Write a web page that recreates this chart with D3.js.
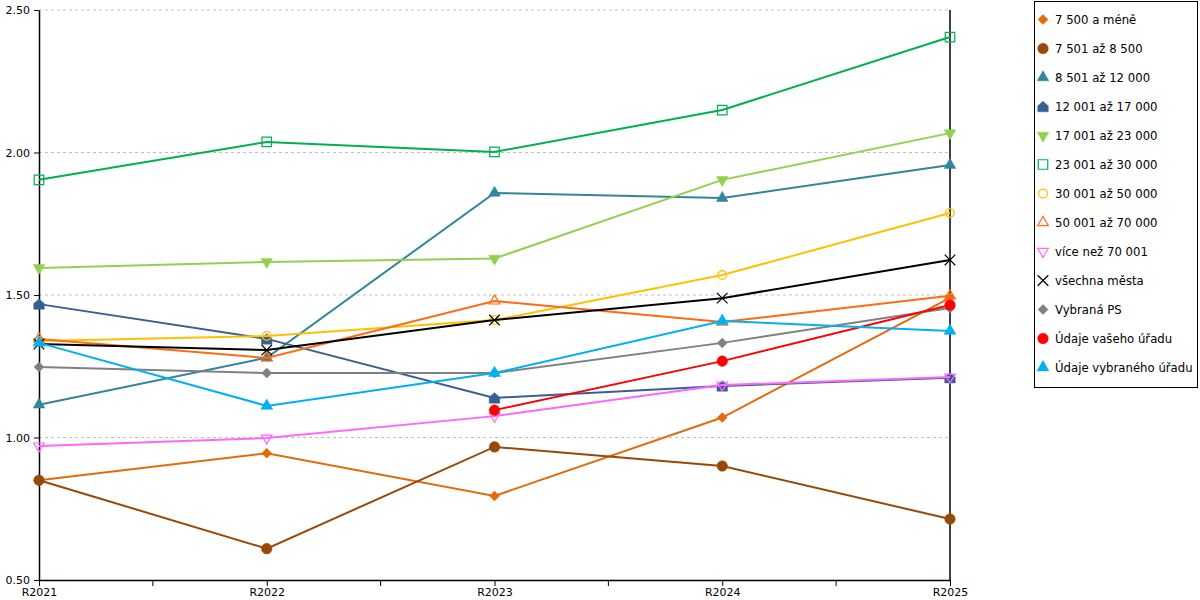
<!DOCTYPE html>
<html>
<head>
<meta charset="utf-8">
<script src="https://cdn.jsdelivr.net/npm/d3@7"></script>
<style>
  body { margin: 0; background: #fff; }
  svg { font-family: "DejaVu Sans", sans-serif; }
</style>
</head>
<body>
<svg id="chart" width="1200" height="600"></svg>
<script>
// categories on the x axis
var years = ["R2021", "R2022", "R2023", "R2024", "R2025"];

// series values
var s7500      = [0.85, 0.945, 0.795, 1.07, 1.49];
var s8500      = [0.85, 0.61, 0.967, 0.90, 0.714];
var s12000     = [1.115, 1.28, 1.858, 1.84, 1.956];
var s17000     = [1.468, 1.346, 1.139, 1.181, 1.21];
var s23000     = [1.595, 1.616, 1.628, 1.904, 2.068];
var s30000     = [1.904, 2.037, 2.002, 2.149, 2.405];
var s50000     = [1.339, 1.356, 1.412, 1.57, 1.788];
var s70000     = [1.346, 1.279, 1.479, 1.405, 1.497];
var sOver70001 = [0.97, 0.998, 1.075, 1.184, 1.212];
var sAll       = [1.328, 1.307, 1.412, 1.489, 1.623];
var sPS        = [1.247, 1.226, 1.226, 1.332, 1.454];
var sVas       = [null, null, 1.096, 1.268, 1.465];
var sVybrany   = [1.332, 1.111, 1.226, 1.409, 1.374];

var yTicks = [0.5, 1.0, 1.5, 2.0, 2.5];

// custom "house" marker (square with a roof)
var symbolHouse = {
  draw: function(context, size) {
    var r = Math.sqrt(size) / 2;
    context.moveTo(-r, r);
    context.lineTo(r, r);
    context.lineTo(r, -r * 0.1);
    context.lineTo(0, -r);
    context.lineTo(-r, -r * 0.1);
    context.closePath();
  }
};

// square diamond (rotated square)
var symbolRhomb = {
  draw: function(context, size) {
    var r = Math.sqrt(size) / 2;
    context.moveTo(0, -r);
    context.lineTo(r, 0);
    context.lineTo(0, r);
    context.lineTo(-r, 0);
    context.closePath();
  }
};

var series = [
  {name: "7 500 a méně",          values: s7500,      colour: "#E36C09", shape: symbolRhomb,       fill: true,  size: 100},
  {name: "7 501 až 8 500",        values: s8500,      colour: "#984807", shape: d3.symbolCircle,   fill: true,  size: 88},
  {name: "8 501 až 12 000",       values: s12000,     colour: "#31859C", shape: d3.symbolTriangle, fill: true,  size: 58},
  {name: "12 001 až 17 000",      values: s17000,     colour: "#376092", shape: symbolHouse,       fill: true,  size: 110},
  {name: "17 001 až 23 000",      values: s23000,     colour: "#92D050", shape: d3.symbolTriangle, fill: true,  size: 58, flip: true},
  {name: "23 001 až 30 000",      values: s30000,     colour: "#00B050", shape: d3.symbolSquare,   fill: false, size: 90},
  {name: "30 001 až 50 000",      values: s50000,     colour: "#FFC000", shape: d3.symbolCircle,   fill: false, size: 60},
  {name: "50 001 až 70 000",      values: s70000,     colour: "#FF6A13", shape: d3.symbolTriangle, fill: false, size: 48},
  {name: "více než 70 001",       values: sOver70001, colour: "#FF66FF", shape: d3.symbolTriangle, fill: false, size: 48, flip: true},
  {name: "všechna města",         values: sAll,       colour: "#000000", shape: d3.symbolTimes,    fill: false, size: 75},
  {name: "Vybraná PS",            values: sPS,        colour: "#808080", shape: symbolRhomb,       fill: true,  size: 100},
  {name: "Údaje vašeho úřadu",    values: sVas,       colour: "#FF0000", shape: d3.symbolCircle,   fill: true,  size: 88},
  {name: "Údaje vybraného úřadu", values: sVybrany,   colour: "#00B0F0", shape: d3.symbolTriangle, fill: true,  size: 62}
];

var svg = d3.select("#chart");
var plotLeft = 39, plotRight = 950, plotTop = 10, plotBottom = 580;

var x = d3.scalePoint().domain(years).range([plotLeft, plotRight]);
var y = d3.scaleLinear().domain([0.5, 2.5]).range([plotBottom, plotTop]);

// dotted gridlines
svg.append("g")
  .selectAll("line")
  .data(yTicks.filter(function(d) { return d > 0.5; }))
  .enter().append("line")
  .attr("x1", plotLeft).attr("x2", plotRight)
  .attr("y1", function(d) { return y(d); })
  .attr("y2", function(d) { return y(d); })
  .attr("stroke", "#c0c0c0")
  .attr("stroke-dasharray", "3,3");

// y axis
var yAxis = svg.append("g")
  .attr("transform", "translate(" + plotLeft + ",0)")
  .call(d3.axisLeft(y).tickValues(yTicks).tickFormat(d3.format(".2f")).tickSize(5).tickSizeOuter(0));

// x axis
var xAxis = svg.append("g")
  .attr("transform", "translate(0," + plotBottom + ")")
  .call(d3.axisBottom(x).tickSize(6).tickSizeOuter(0).tickPadding(2));

// minor ticks between categories
var mids = [];
for (var i = 0; i < years.length - 1; i++) {
  mids.push((x(years[i]) + x(years[i + 1])) / 2);
}
xAxis.selectAll(".mid")
  .data(mids)
  .enter().append("line")
  .attr("class", "mid")
  .attr("x1", function(d) { return d; }).attr("x2", function(d) { return d; })
  .attr("y1", 0).attr("y2", 6)
  .attr("stroke", "#000");

svg.selectAll(".domain").attr("stroke", "#000").attr("stroke-width", 1.5);
svg.selectAll(".tick line").attr("stroke", "#000");
svg.selectAll(".tick text").attr("font-size", 11).attr("fill", "#000").attr("font-family", "DejaVu Sans");
yAxis.selectAll(".tick text").attr("dx", "-1");

// right edge line
svg.append("line")
  .attr("x1", plotRight).attr("x2", plotRight)
  .attr("y1", plotTop).attr("y2", plotBottom)
  .attr("stroke", "#000").attr("stroke-width", 1.5);

var line = d3.line()
  .defined(function(d) { return d != null; })
  .x(function(d, i) { return x(years[i]); })
  .y(function(d) { return y(d); });

function markerPath(s) {
  return d3.symbol().type(s.shape).size(s.size)();
}

function markerTransform(s, px, py) {
  return "translate(" + px + "," + py + ")" + (s.flip ? " rotate(180)" : "");
}

series.forEach(function(s) {
  var g = svg.append("g");
  g.append("path")
    .datum(s.values)
    .attr("d", line)
    .attr("fill", "none")
    .attr("stroke", s.colour)
    .attr("stroke-width", 2);

  g.selectAll("path.pt")
    .data(s.values.map(function(v, i) { return {v: v, i: i}; }).filter(function(d) { return d.v != null; }))
    .enter().append("path")
    .attr("class", "pt")
    .attr("d", markerPath(s))
    .attr("transform", function(d) { return markerTransform(s, x(years[d.i]), y(d.v)); })
    .attr("fill", s.fill ? s.colour : "none")
    .attr("stroke", s.colour)
    .attr("stroke-width", s.fill ? 0.5 : 1.2);
});

// legend
var legend = svg.append("g");
legend.append("rect")
  .attr("x", 1034.5).attr("y", 1.5)
  .attr("width", 163).attr("height", 386)
  .attr("fill", "#fff").attr("stroke", "#000");

var items = legend.selectAll("g.item")
  .data(series)
  .enter().append("g")
  .attr("class", "item")
  .attr("transform", function(d, i) { return "translate(0," + (19.5 + i * 29) + ")"; });

items.append("path")
  .attr("d", function(d) { return markerPath(d); })
  .attr("transform", function(d) { return markerTransform(d, 1043, 0); })
  .attr("fill", function(d) { return d.fill ? d.colour : "none"; })
  .attr("stroke", function(d) { return d.colour; })
  .attr("stroke-width", function(d) { return d.fill ? 0.5 : 1.2; });

items.append("text")
  .attr("x", 1055).attr("y", 4)
  .attr("font-size", 11.7)
  .attr("fill", "#000")
  .text(function(d) { return d.name; });
</script>
</body>
</html>
